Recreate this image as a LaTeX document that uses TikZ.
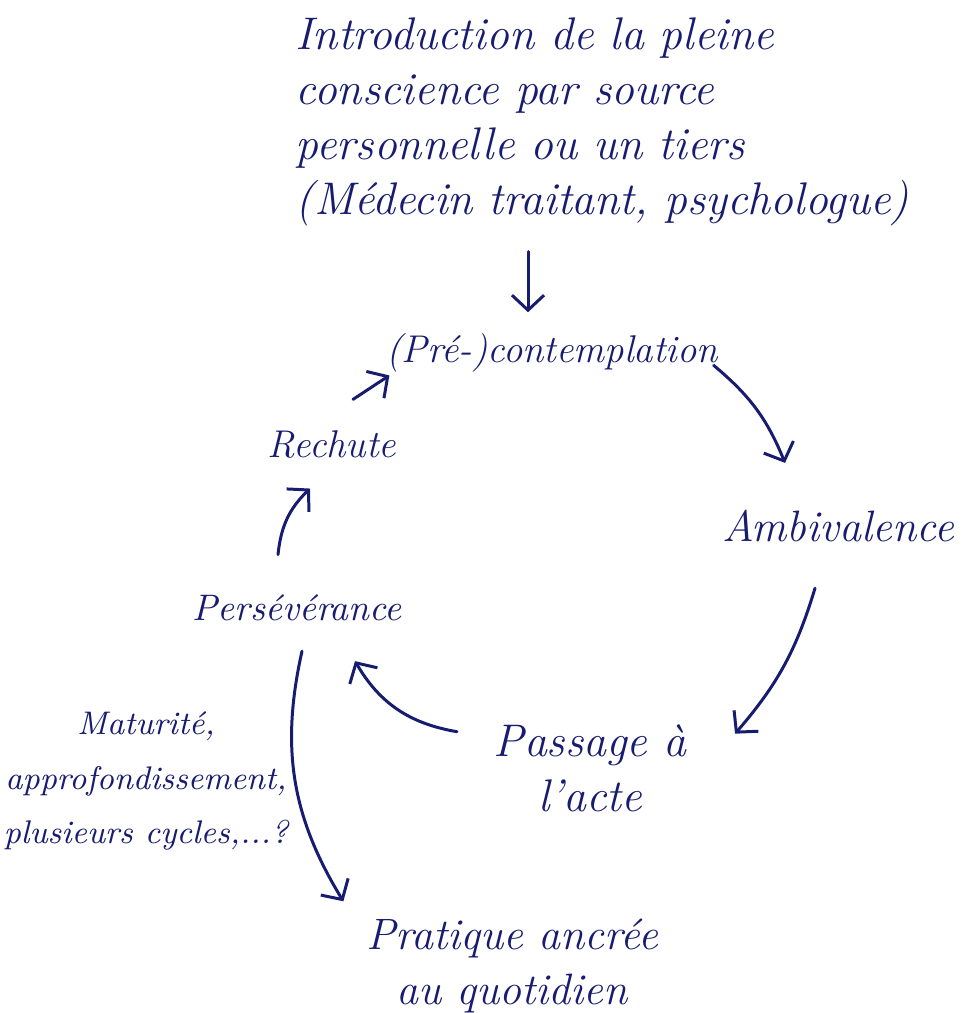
\documentclass[tikz,border=0pt]{standalone}
\usepackage{fontspec}
\usepackage{tikz}
\usetikzlibrary{arrows.meta, calc}
\definecolor{ink}{RGB}{24, 28, 112}
\newcommand{\handsize}[1]{\fontsize{#1}{15.6}\selectfont\itshape}
\tikzset{
    stage/.style={text=ink, inner sep=2pt, font=\handsize{12.5}},
    cyclearrow/.style={draw=ink, line width=0.85pt, line cap=round, -{Straight Barb[length=1.5mm, width=3.2mm]}}
}

\begin{document}
\begin{tikzpicture}[x=0.01cm, y=-0.01cm]
                    \fill[white] (0,0) rectangle (965,1013);
                    \useasboundingbox (0,0) rectangle (965,1013);

                    \node[stage, font=\handsize{13}, align=left, anchor=west] (intro) at (288,122) {Introduction de la pleine\\conscience par source\\personnelle ou un tiers\\(Médecin traitant, psychologue)};
                    \node[stage, font=\handsize{11}, anchor=base] (contemp) at (552,363) {(Pré-)contemplation};
                    \node[stage, font=\handsize{11}, anchor=base] (rechute) at (332,457) {Rechute};
                    \node[stage, anchor=base] (ambival) at (838,541) {Ambivalence};
                    \node[stage, font=\handsize{10.5}, anchor=base] (persev) at (297,620) {Persévérance};
                    \node[stage, font=\handsize{13}, align=center] (passage) at (590,768) {Passage à\\l'acte};
                    \node[stage, font=\handsize{9.3}, align=center] (maturite) at (146,781) {Maturité,\\approfondissement,\\plusieurs cycles,...?};
                    \node[stage, align=center] (pratique) at (512,966) {Pratique ancrée\\au quotidien};

                    \draw[cyclearrow] ($(intro.south -| contemp.north)+(-24,18)$) -- ($(contemp.north)+(-24,-14)$);
                    \draw[cyclearrow] ($(contemp.east)+(-12,12)$) to[bend left=14] ($(ambival.north)+(-53,-39)$);
                    \draw[cyclearrow] ($(ambival.south)+(-23,39)$) to[bend left=12] ($(passage.north east)+(41,17)$);
                    \draw[cyclearrow] ($(passage.north west)+(-29,15)$) to[bend left=25] ($(persev.south)+(58,33)$);
                    \draw[cyclearrow] ($(persev.north)+(-19,-32)$) to[bend left=20] ($(rechute.south)+(-22,23)$);
                    \draw[cyclearrow] ($(rechute.north)+(21,-23)$) -- ($(contemp.south west)+(11,-5)$);
                    \draw[cyclearrow] ($(persev.south)+(5,23)$) to[bend right=22] ($(pratique.north west)+(-15,-10)$);
                \end{tikzpicture}
\end{document}
